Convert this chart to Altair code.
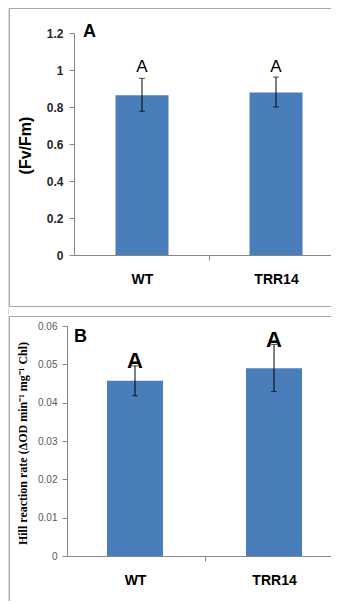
import altair as alt
import pandas as pd

# ---- data ----
categories = ["WT", "TRR14"]

fv_mean = [0.863, 0.879]
fv_low = [0.777, 0.800]
fv_high = [0.955, 0.962]
fv_letters = ["A", "A"]
fv_letter_y = [0.99, 0.99]
fv_ticks = [0, 0.2, 0.4, 0.6, 0.8, 1.0, 1.2]

hill_mean = [0.0457, 0.0490]
hill_low = [0.0418, 0.0429]
hill_high = [0.0496, 0.0552]
hill_letters = ["A", "A"]
hill_letter_y = [0.049, 0.0546]
hill_ticks = [0, 0.01, 0.02, 0.03, 0.04, 0.05, 0.06]

# ---- style / layout ----
BAR = "#4a7ebb"
AXIS = "#868686"
BOX = "#a6a6a6"
FONT = "Liberation Sans"
W, H = 323, 593

one = pd.DataFrame({"t": [0]})


def make_panel(name, mean, low, high, letters, letter_y, ticks, ymax,
               xrange, p_inner, p_outer, s_align, step_half, yrange, x_off, y_off,
               ylab_size, ylab_weight, ylab_color, ylab_pad,
               ytitle, ytitle_font, ytitle_size, ytitle_x, ytitle_y,
               letter_size, letter_weight,
               plab_x, plab_y, plab_size, box_lines):
    df = pd.DataFrame({"cat": categories, "mean": mean, "low": low, "high": high,
                       "letter": letters, "ly": letter_y})
    xscale = alt.Scale(range=xrange, paddingInner=p_inner, paddingOuter=p_outer, align=s_align)
    xaxis = alt.Axis(orient="bottom", offset=x_off,
                     labelFont=FONT, labelFontSize=14, labelFontWeight="bold",
                     labelColor="black", labelAngle=0, labelBaseline="alphabetic",
                     labelPadding=23, tickSize=5, tickColor=AXIS, domainColor=AXIS,
                     tickOffset=step_half, labelOffset=-step_half)
    x = alt.X("cat:N", sort=categories, scale=xscale, axis=xaxis, title=None)
    yscale = alt.Scale(domain=[0, ymax], range=yrange, nice=False, zero=True)
    yaxis = alt.Axis(orient="left", offset=y_off, values=ticks, format="~g", grid=False,
                     labelFont=FONT, labelFontSize=ylab_size, labelFontWeight=ylab_weight,
                     labelColor=ylab_color, labelPadding=ylab_pad,
                     tickSize=5, tickColor=AXIS, domainColor=AXIS,
                     titleFont=ytitle_font, titleFontSize=ytitle_size,
                     titleFontWeight="bold", titleColor="black",
                     titleAngle=-90, titleX=ytitle_x, titleY=ytitle_y,
                     titleAlign="center", titleBaseline="middle")

    def Y(field):
        return alt.Y(field, scale=yscale, axis=yaxis, title=ytitle)

    base = alt.Chart(df)
    bars = base.mark_bar(color=BAR).encode(x=x, y=Y("mean:Q"))
    err = base.mark_rule(color="black", strokeWidth=1).encode(
        x=x, y=Y("low:Q"), y2=alt.Y2("high:Q", title=None))
    cap_lo = base.mark_tick(color="black", thickness=1, size=6, orient="horizontal").encode(
        x=x, y=Y("low:Q"))
    cap_hi = base.mark_tick(color="black", thickness=1, size=6, orient="horizontal").encode(
        x=x, y=Y("high:Q"))
    sig = base.mark_text(font=FONT, fontSize=letter_size, fontWeight=letter_weight,
                         color="black", baseline="alphabetic").encode(
        x=x, y=Y("ly:Q"), text="letter:N")

    lab = alt.Chart(one).mark_text(text=name, font=FONT, fontSize=plab_size,
                                   fontWeight="bold", color="black", align="left",
                                   baseline="alphabetic").encode(
        x=alt.value(plab_x), y=alt.value(plab_y))

    deco = []
    for (x1, y1, x2, y2) in box_lines:
        if y1 == y2:
            enc = dict(x=alt.value(x1), x2=alt.value(x2), y=alt.value(y1))
        else:
            enc = dict(x=alt.value(x1), y=alt.value(y1), y2=alt.value(y2))
        deco.append(alt.Chart(one).mark_rule(color=BOX, strokeWidth=1).encode(**enc))

    return alt.layer(*deco, bars, err, cap_lo, cap_hi, sig, lab)


# panel A: y axis at page x 74, zero line at page y 255, top (1.2) at page y 33
panel_a = make_panel("A", fv_mean, fv_low, fv_high, fv_letters, fv_letter_y,
                     fv_ticks, 1.2,
                     [66, W], 0.6045, 0.261, 0.593, 67, [247, 25], 247 - H, -66,
                     12, "bold", "#262626", 6,
                     "(Fv/Fm)", FONT, 16, -49, 137,
                     17, "normal",
                     75, 29, 18,
                     [(1.5, 0.5, W, 0.5), (1.5, 0.5, 1.5, 298.5), (1.5, 298.5, W, 298.5)])

# panel B: y axis at page x 67, zero line at page y 556, top (0.06) at page y 326
panel_b = make_panel("B", hill_mean, hill_low, hill_high, hill_letters, hill_letter_y,
                     hill_ticks, 0.06,
                     [59, W], 0.597, 0.248, 0.58, 69.5, [548, 318], 548 - H, -59,
                     10, "normal", "#595959", 5,
                     "Hill reaction rate (ΔOD min⁻¹ mg⁻¹ Chl)", "Liberation Serif", 12, -45, 435,
                     22, "bold",
                     66, 334, 18,
                     [(1.5, 308.5, W, 308.5), (1.5, 308.5, 1.5, H)])

chart = alt.layer(panel_a, panel_b).resolve_scale(
    x="independent", y="independent"
).resolve_axis(
    x="independent", y="independent"
).properties(
    width=W, height=H,
    autosize=alt.AutoSizeParams(type="none"),
    padding=0,
).configure_view(strokeWidth=0).configure(font=FONT)

chart.save("out.html", embed_options={"renderer": "svg", "actions": False})
